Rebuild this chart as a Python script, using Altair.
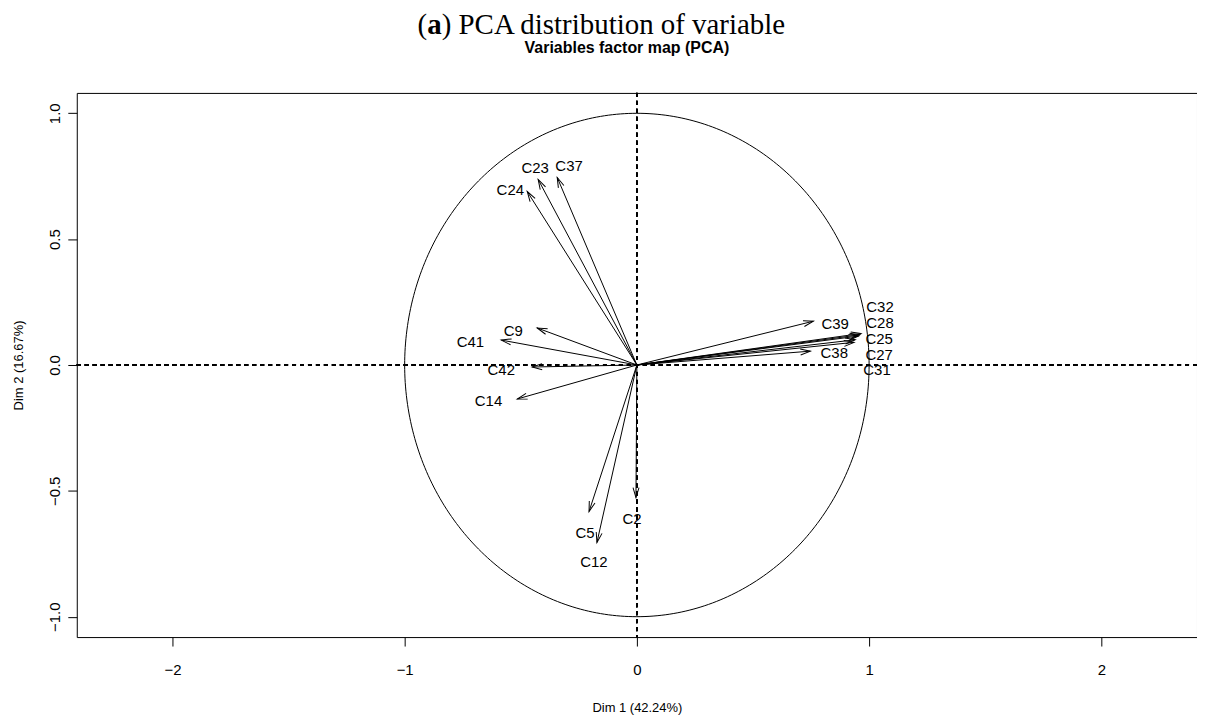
import math
import numpy as np
import pandas as pd
import altair as alt

# ---- data ----
names = ["C32", "C28", "C25", "C27", "C31", "C39", "C38", "C24", "C23", "C37",
         "C9", "C41", "C42", "C14", "C5", "C12", "C2"]
dim1 = [0.965, 0.960, 0.955, 0.940, 0.935, 0.760, 0.747, -0.472, -0.425, -0.343,
        -0.429, -0.584, -0.451, -0.515, -0.206, -0.172, -0.004]
dim2 = [0.125, 0.120, 0.115, 0.100, 0.090, 0.174, 0.055, 0.689, 0.737, 0.745,
        0.147, 0.099, -0.008, -0.135, -0.582, -0.705, -0.527]
label_x = [1.047, 1.047, 1.043, 1.043, 1.034, 0.854, 0.850, -0.545, -0.438, -0.292,
           -0.532, -0.717, -0.584, -0.639, -0.223, -0.185, -0.021]
label_y = [0.230, 0.166, 0.103, 0.040, -0.020, 0.162, 0.048, 0.697, 0.784, 0.792,
           0.135, 0.091, -0.020, -0.143, -0.666, -0.784, -0.610]

x_ticks = [-2, -1, 0, 1, 2]
y_ticks = [-1.0, -0.5, 0.0, 0.5, 1.0]
x_domain = [-2.412, 2.412]
y_domain = [-1.081, 1.081]

title_open = "("
title_bold = "a"
title_rest = ") PCA distribution of variable"
subtitle = "Variables factor map (PCA)"
x_title = "Dim 1 (42.24%)"
y_title = "Dim 2 (16.67%)"

# ---- layout ----
W, H = 1124, 546
px_x = W / (x_domain[1] - x_domain[0])
px_y = H / (y_domain[1] - y_domain[0])

df = pd.DataFrame({"name": names, "x": dim1, "y": dim2, "lx": label_x, "ly": label_y})
df["x0"] = 0.0
df["y0"] = 0.0
df["ang"] = [(math.degrees(math.atan2(-yy * px_y, xx * px_x)) + 360) % 360 for xx, yy in zip(dim1, dim2)]

theta = np.linspace(0, 2 * np.pi, 361)
circ = pd.DataFrame({"cx": np.cos(theta), "cy": np.sin(theta), "o": np.arange(361)})

xs = alt.Scale(domain=x_domain, nice=False, zero=False)
ys = alt.Scale(domain=y_domain, nice=False, zero=False)

FONT = "Liberation Sans"

x_enc_axis = alt.Axis(values=x_ticks, format="d", grid=False, domain=False, tickColor="black",
                      tickSize=9, labelFontSize=15, labelFont=FONT, labelColor="black",
                      labelPadding=17, title=x_title, titleFont=FONT, titleFontSize=13,
                      titleFontWeight="normal", titleColor="black", titlePadding=24)
y_enc_axis = alt.Axis(values=y_ticks, format=".1f", grid=False, domain=False, tickColor="black",
                      tickSize=9, labelFontSize=15, labelFont=FONT, labelColor="black",
                      labelAngle=270, labelPadding=5, title=y_title, titleFont=FONT,
                      titleFontSize=13, titleFontWeight="normal", titleColor="black",
                      titlePadding=22)

circle = alt.Chart(circ).mark_line(color="black", strokeWidth=1).encode(
    x=alt.X("cx:Q", scale=xs, axis=x_enc_axis),
    y=alt.Y("cy:Q", scale=ys, axis=y_enc_axis),
    order="o:Q",
)

hline = alt.Chart(df).mark_rule(color="black", strokeWidth=0.8, strokeDash=[4, 4]).encode(
    y=alt.datum(0, scale=ys)
)
vline = alt.Chart(df).mark_rule(color="black", strokeWidth=0.8, strokeDash=[4, 4]).encode(
    x=alt.datum(0, scale=xs)
)

shafts = alt.Chart(df).mark_rule(color="black", strokeWidth=1).encode(
    x=alt.X("x0:Q", scale=xs), y=alt.Y("y0:Q", scale=ys),
    x2="x:Q", y2="y:Q",
)

heads = alt.Chart(df).mark_point(
    shape="M -1 -0.3 L 0 0 L -1 0.3", filled=False, color="black", strokeWidth=1,
    size=400, opacity=1,
).encode(
    x=alt.X("x:Q", scale=xs), y=alt.Y("y:Q", scale=ys),
    angle=alt.Angle("ang:Q", scale=None),
)

labels = alt.Chart(df).mark_text(font=FONT, fontSize=15, color="black", align="center",
                                 baseline="middle").encode(
    x=alt.X("lx:Q", scale=xs), y=alt.Y("ly:Q", scale=ys), text="name:N"
)

tdf = pd.DataFrame({"a": [title_open], "b": [title_bold], "c": [title_rest], "s": [subtitle]})
SERIF = "Liberation Serif"
TS = 29
t_left = 342
t_base = -59
t1 = alt.Chart(tdf).mark_text(font=SERIF, fontSize=TS, align="left", baseline="alphabetic",
                              color="black").encode(text="a:N", x=alt.value(t_left), y=alt.value(t_base))
t2 = alt.Chart(tdf).mark_text(font=SERIF, fontSize=TS, fontWeight="bold", align="left",
                              baseline="alphabetic", color="black").encode(
    text="b:N", x=alt.value(t_left + 0.333 * TS), y=alt.value(t_base))
t3 = alt.Chart(tdf).mark_text(font=SERIF, fontSize=TS, align="left", baseline="alphabetic",
                              color="black").encode(
    text="c:N", x=alt.value(t_left + 0.333 * TS + 0.5 * TS), y=alt.value(t_base))
sub = alt.Chart(tdf).mark_text(font="Liberation Sans Narrow, Liberation Sans", fontSize=16,
                               fontWeight="bold", align="center",
                               baseline="alphabetic", color="black").encode(
    text="s:N", x=alt.value(W / 2 - 10), y=alt.value(-40))

chart = alt.layer(circle, hline, vline, shafts, heads, labels, t1, t2, t3, sub).properties(
    width=W, height=H,
    autosize=alt.AutoSizeParams(type="none"),
    padding={"left": 69, "top": 84, "right": 0, "bottom": 80},
    background="white",
).configure_view(stroke="black", strokeWidth=1)

chart.save("out.html", embed_options={"renderer": "svg", "actions": False})
